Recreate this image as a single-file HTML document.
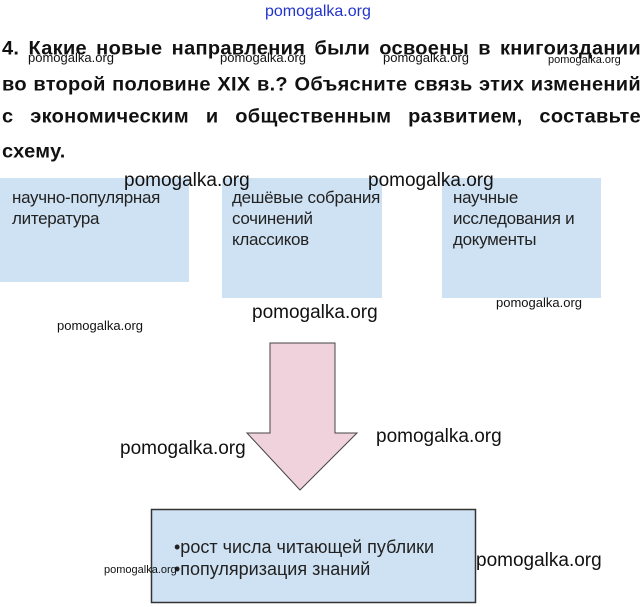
<!DOCTYPE html>
<html><head><meta charset="utf-8"><style>
body{margin:0;width:644px;height:607px;background:#fff;position:relative;overflow:hidden;font-family:"Liberation Sans",sans-serif}
.a{position:absolute;white-space:nowrap}
.ql{position:absolute;left:2px;width:639px;font-family:"Liberation Sans",sans-serif;font-weight:bold;font-size:20px;color:#111;text-align:justify;text-align-last:justify;white-space:nowrap;letter-spacing:0.3px;transform:scaleY(0.95)}
.box{position:absolute;background:#cfe2f3;font-size:17px;color:#222;line-height:21px;white-space:nowrap;letter-spacing:-0.3px}
.w{position:absolute;white-space:nowrap;font-family:"Liberation Sans",sans-serif;color:#111}
</style></head><body>
<div class="a" style="left:265px;top:3px;color:#2233cc;font-size:16px;font-family:'Liberation Sans',sans-serif">pomogalka.org</div>
<div class="ql" style="top:38px">4. Какие новые направления были освоены в книгоиздании</div>
<div class="ql" style="top:74px">во второй половине XIX в.? Объясните связь этих изменений</div>
<div class="ql" style="top:106px">с экономическим и общественным развитием, составьте</div>
<div class="ql" style="top:141px;width:auto;text-align-last:auto">схему.</div>
<div class="w" style="left:28px;top:50px;font-size:13px">pomogalka.org</div>
<div class="w" style="left:220px;top:50px;font-size:13px">pomogalka.org</div>
<div class="w" style="left:383px;top:50px;font-size:13px">pomogalka.org</div>
<div class="w" style="left:548px;top:54px;font-size:11px">pomogalka.org</div>
<div class="box" style="left:0;top:178px;width:189px;height:104px;padding:9px 0 0 12px;box-sizing:border-box">научно-популярная<br>литература</div>
<div class="box" style="left:222px;top:178px;width:160px;height:120px;padding:9px 0 0 10px;box-sizing:border-box">дешёвые собрания<br>сочинений<br>классиков</div>
<div class="box" style="left:442px;top:178px;width:159px;height:120px;padding:9px 0 0 11px;box-sizing:border-box">научные<br>исследования и<br>документы</div>
<div class="w" style="left:124px;top:170px;font-size:19px">pomogalka.org</div>
<div class="w" style="left:368px;top:170px;font-size:19px">pomogalka.org</div>
<div class="w" style="left:496px;top:295px;font-size:13px">pomogalka.org</div>
<div class="w" style="left:57px;top:318px;font-size:13px">pomogalka.org</div>
<div class="w" style="left:252px;top:302px;font-size:19px">pomogalka.org</div>
<svg class="a" style="left:0;top:0" width="644" height="607">
<polygon points="270,343 335,343 335,433 357,433 300,490 247,433 270,433" fill="#f0d2dc" stroke="#444" stroke-width="1"/>
<rect x="151.5" y="509.5" width="324" height="93" fill="#cfe2f3" stroke="#333" stroke-width="1.5"/>
</svg>
<div class="w" style="left:120px;top:438px;font-size:19px">pomogalka.org</div>
<div class="w" style="left:376px;top:426px;font-size:19px">pomogalka.org</div>
<div class="a" style="left:174px;top:536px;font-size:18px;color:#222;line-height:22px">•рост числа читающей публики<br>•популяризация знаний</div>
<div class="w" style="left:104px;top:564px;font-size:11px">pomogalka.org</div>
<div class="w" style="left:476px;top:550px;font-size:19px">pomogalka.org</div>
</body></html>
